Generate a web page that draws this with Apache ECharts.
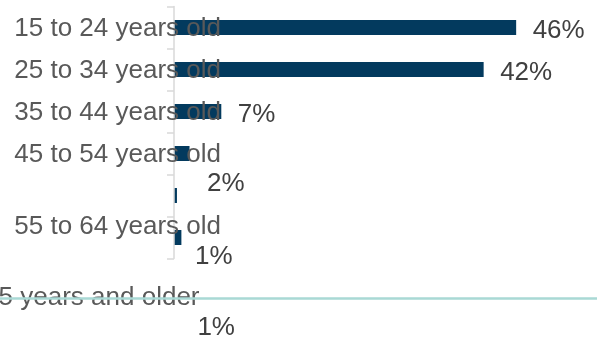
<!DOCTYPE html>
<html>
<head>
<meta charset="utf-8">
<script src="https://cdn.jsdelivr.net/npm/echarts@6/dist/echarts.min.js"></script>
<style>
  html, body { margin: 0; padding: 0; background: #fff; overflow: hidden; }
  #chart { width: 597px; height: 337px; }
</style>
</head>
<body>
<div id="chart"></div>
<script>
// age groups, top to bottom
var ageGroups = ['15 to 24 years old', '25 to 34 years old', '35 to 44 years old',
                 '45 to 54 years old', '55 to 64 years old', '65 years and older'];
// bar lengths as drawn (percent)
var barLengths = [46.3, 41.9, 6.4, 2.1, 0.4, 1.0];
// printed shares (percent)
var shares = [46, 42, 7, 2, 1, 1];

// label nudges (px) - the original has its lower labels drifted down
var catShiftY = [1.5, 1.5, 1.5, 1.5, 31, 60];
var catShiftX = [0, 0, 0, 0, 0, 21.5];
var valOffsets = [[0, 3.5], [0, 3], [0, 3], [1, 30.5], [1.5, 61], [-0.5, 90]];

var FONT = '"Liberation Sans", Arial, sans-serif';

var rich = {};
ageGroups.forEach(function (g, i) {
    rich['c' + i] = {
        fontSize: 26,
        fontFamily: FONT,
        color: '#595959',
        padding: [catShiftY[i] * 2, catShiftX[i], 0, 0]
    };
});

var barData = barLengths.map(function (v, i) {
    return { value: v, label: { offset: valOffsets[i] } };
});

var chart = echarts.init(document.getElementById('chart'), null, { renderer: 'canvas' });
var option = {
    animation: false,
    backgroundColor: '#ffffff',
    grid: [
        { left: 174, top: 6.5, width: 369.5, height: 252, outerBoundsMode: 'none', containLabel: false },
        { left: 0, right: 0, top: 297.5, height: 1, outerBoundsMode: 'none', containLabel: false }
    ],
    xAxis: [
        { gridIndex: 0, type: 'value', min: 0, max: 50, show: false },
        {
            gridIndex: 1, type: 'value', min: 0, max: 1, z: 8,
            axisLine: { show: true, onZero: false, lineStyle: { color: '#a9d9d5', width: 2.5 } },
            axisTick: { show: false }, axisLabel: { show: false }, splitLine: { show: false }
        }
    ],
    yAxis: [
        {
            gridIndex: 0,
            type: 'category',
            inverse: true,
            data: ageGroups,
            z: 4,
            axisLine: { show: true, lineStyle: { color: '#d9d9d9', width: 1.5 } },
            axisTick: { show: true, length: 7, lineStyle: { color: '#d9d9d9', width: 1.5 } },
            splitLine: { show: false },
            axisLabel: {
                interval: 0,
                margin: -47,
                formatter: function (val, idx) { return '{c' + idx + '|' + val + '}'; },
                rich: rich
            }
        },
        { gridIndex: 1, type: 'value', show: false, min: 0, max: 1 }
    ],
    series: [{
        type: 'bar',
        xAxisIndex: 0,
        yAxisIndex: 0,
        data: barData,
        barWidth: 15,
        itemStyle: { color: '#033a5e' },
        label: {
            show: true,
            position: 'right',
            distance: 16.5,
            fontSize: 26,
            fontFamily: FONT,
            color: '#404040',
            formatter: function (p) { return shares[p.dataIndex] + '%'; }
        }
    }]
};
chart.setOption(option);
</script>
</body>
</html>
